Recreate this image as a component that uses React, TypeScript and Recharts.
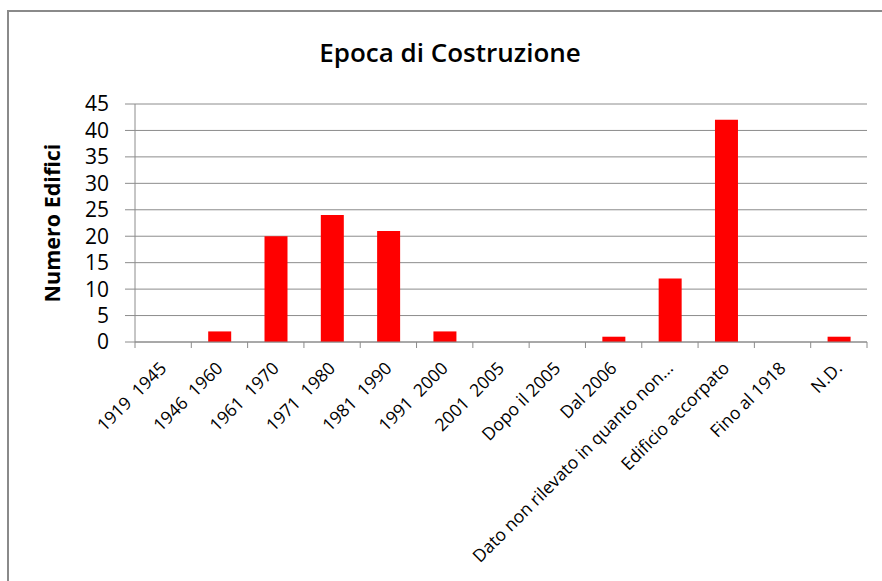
import React from 'react';
import { BarChart, Bar, XAxis, YAxis, CartesianGrid, Label } from 'recharts';

const categories: string[] = [
  '1919  1945',
  '1946  1960',
  '1961  1970',
  '1971  1980',
  '1981  1990',
  '1991  2000',
  '2001  2005',
  'Dopo il 2005',
  'Dal 2006',
  'Dato non rilevato in quanto non...',
  'Edificio accorpato',
  'Fino al 1918',
  'N.D.',
];
const values: number[] = [0, 2, 20, 24, 21, 2, 0, 0, 1, 12, 42, 0, 1];
const yTicks: number[] = [0, 5, 10, 15, 20, 25, 30, 35, 40, 45];

const title = 'Epoca di Costruzione';
const yTitle = 'Numero Edifici';

const data = categories.map((c, i) => ({ name: c, value: values[i] }));

const FONT = '"Open Sans", "Noto Sans", sans-serif';
const GRID = '#8c8c8c';

const XTick = (props: any) => {
  const { x, y, payload, index } = props;
  const half = payload && payload.offset ? payload.offset : 0;
  const last = index === categories.length - 1;
  return (
    <g>
      <line x1={x - half} x2={x - half} y1={y - 8} y2={y - 2} stroke={GRID} strokeWidth={1} />
      {last && <line x1={x + half} x2={x + half} y1={y - 8} y2={y - 2} stroke={GRID} strokeWidth={1} />}
      <text
        transform={`translate(${x},${y + 15}) rotate(-45)`}
        textAnchor="end"
        dy="0.35em"
        fontFamily={FONT}
        fontSize={17.5}
        fill="#000"
        xmlSpace="preserve"
        style={{ whiteSpace: 'pre' }}
      >
        {payload.value}
      </text>
    </g>
  );
};

const YLabel = (props: any) => {
  const vb = props.viewBox || {};
  const cx = 52;
  const cy = (vb.y || 0) + (vb.height || 0) / 2;
  return (
    <text
      transform={`translate(${cx},${cy}) rotate(-90)`}
      textAnchor="middle"
      dy="0.35em"
      fontFamily={FONT}
      fontSize={21.5}
      fontWeight={700}
      fill="#000"
    >
      {yTitle}
    </text>
  );
};

export default function App() {
  return (
    <div style={{ position: 'absolute', left: 0, top: 0, width: 882, height: 581, background: '#fff', overflow: 'hidden' }}>
      <div
        style={{
          position: 'absolute',
          left: 7,
          top: 10,
          width: 900,
          height: 600,
          borderTop: '2px solid #8a8a8a',
          borderLeft: '2px solid #8a8a8a',
        }}
      />
      <div
        style={{
          position: 'absolute',
          left: 0,
          top: 35,
          width: 900,
          textAlign: 'center',
          fontFamily: FONT,
          fontSize: 26,
          fontWeight: 600,
          color: '#000',
          lineHeight: '34px',
        }}
      >
        {title}
      </div>
      <div style={{ position: 'absolute', left: 0, top: 0 }}>
        <BarChart
          width={882}
          height={581}
          data={data}
          margin={{ top: 104, right: 15, bottom: 0, left: 0 }}
          barCategoryGap="30%"
        >
          <CartesianGrid horizontal vertical={false} stroke={GRID} strokeWidth={1} />
          <XAxis
            dataKey="name"
            height={239}
            interval={0}
            tick={<XTick />}
            tickLine={false}
            axisLine={{ stroke: GRID, strokeWidth: 1 }}
            tickSize={6}
            tickMargin={2}
          />
          <YAxis
            width={135}
            domain={[0, 45]}
            ticks={yTicks}
            interval={0}
            tickSize={10}
            tickMargin={16}
            tickLine={{ stroke: GRID }}
            axisLine={{ stroke: GRID, strokeWidth: 1 }}
            tick={{ fill: '#000', fontSize: 21, fontFamily: FONT }}
          >
            <Label content={<YLabel />} />
          </YAxis>
          <Bar dataKey="value" fill="#ff0000" isAnimationActive={false} />
        </BarChart>
      </div>
    </div>
  );
}
